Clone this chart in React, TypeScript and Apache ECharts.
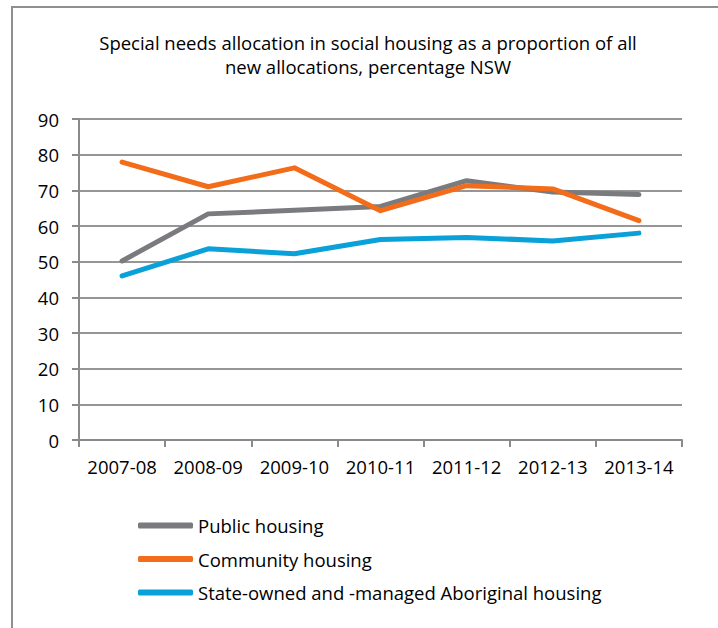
import React, { useEffect, useRef } from "react";
import * as echarts from "echarts";

const categories = ["2007-08", "2008-09", "2009-10", "2010-11", "2011-12", "2012-13", "2013-14"];
const publicHousing = [50.2, 63.4, 64.4, 65.5, 72.7, 69.5, 68.8];
const communityHousing = [77.9, 71.0, 76.3, 64.3, 71.3, 70.4, 61.5];
const aboriginalHousing = [46.0, 53.6, 52.2, 56.2, 56.8, 55.8, 58.0];
const seriesNames = ["Public housing", "Community housing", "State-owned and -managed Aboriginal housing"];
const titleText = "Special needs allocation in social housing as a proportion of all\nnew allocations, percentage NSW";

const FONT = "Open Sans";
const colors = ["#7a7b7e", "#f26c1a", "#0aa0d8"];

export default function App() {
  const ref = useRef<HTMLDivElement>(null);
  useEffect(() => {
    if (!ref.current) return;
    const chart = echarts.init(ref.current, null, { renderer: "svg" });
    const mk = (name: string, data: number[], color: string) => ({
      name,
      type: "line",
      data,
      symbol: "none",
      lineStyle: { width: 5, color, cap: "round", join: "round" },
      itemStyle: { color },
    });
    chart.setOption({
      animation: false,
      backgroundColor: "#ffffff",
      textStyle: { fontFamily: FONT },
      graphic: [
        {
          type: "rect",
          shape: { x: 12, y: 7, width: 730, height: 650 },
          style: { fill: "none", stroke: "#8f8f8f", lineWidth: 2 },
          silent: true,
        },
        {
          type: "text",
          x: 368,
          y: 30,
          style: {
            text: titleText,
            fontFamily: FONT,
            fontSize: 18.5,
            lineHeight: 24,
            fill: "#000000",
            textAlign: "center",
            textVerticalAlign: "top",
          },
        },
      ],
      grid: { left: 79, right: 36, top: 119, bottom: 188, containLabel: false },
      legend: {
        orient: "vertical",
        left: 133,
        top: 510,
        itemWidth: 55,
        itemHeight: 6,
        itemGap: 12.5,
        itemStyle: { borderWidth: 0 },
        icon: "roundRect",
        data: seriesNames,
        textStyle: { fontFamily: FONT, fontSize: 18.5, color: "#000", lineHeight: 21 },
      },
      xAxis: {
        type: "category",
        data: categories,
        boundaryGap: true,
        axisLine: { lineStyle: { color: "#8a8a8a", width: 2 } },
        axisTick: { show: true, length: 7, lineStyle: { color: "#8a8a8a", width: 2 } },
        axisLabel: { color: "#000", fontFamily: FONT, fontSize: 18.5, margin: 17, interval: 0 },
        splitLine: { show: false },
      },
      yAxis: {
        type: "value",
        min: 0,
        max: 90,
        interval: 10,
        axisLine: { show: true, lineStyle: { color: "#8a8a8a", width: 2 } },
        axisTick: { show: true, length: 7, lineStyle: { color: "#8a8a8a", width: 2 } },
        axisLabel: { color: "#000", fontFamily: FONT, fontSize: 18.5, margin: 20 },
        splitLine: { show: true, lineStyle: { color: "#969696", width: 2 } },
      },
      series: [
        mk(seriesNames[0], publicHousing, colors[0]),
        mk(seriesNames[1], communityHousing, colors[1]),
        mk(seriesNames[2], aboriginalHousing, colors[2]),
      ],
    });
    return () => chart.dispose();
  }, []);
  return (
    <div
      ref={ref}
      style={{ position: "fixed", left: 0, top: 0, width: 718, height: 628, background: "#fff" }}
    />
  );
}
